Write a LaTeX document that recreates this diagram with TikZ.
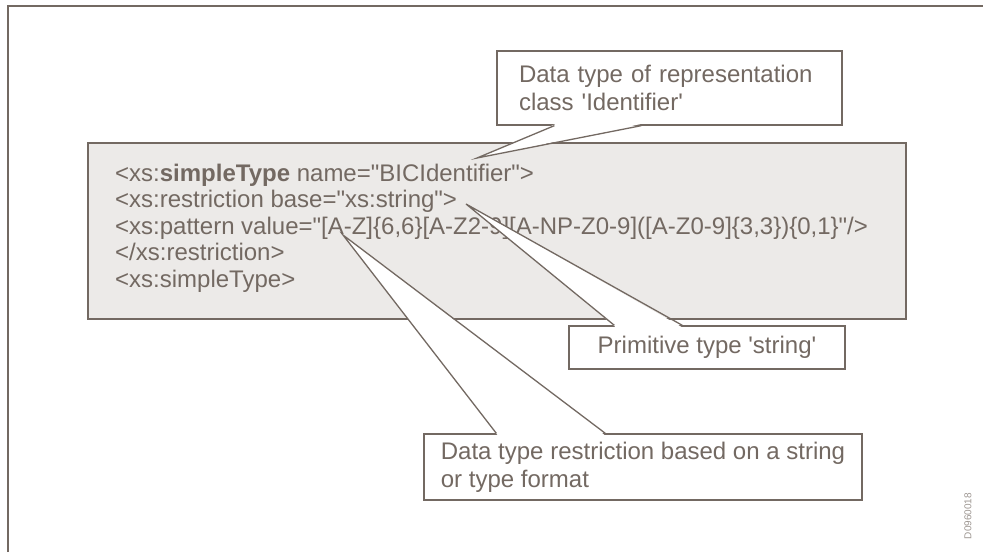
\documentclass[tikz,border=0pt]{standalone}
\usepackage{fontspec}
\setmainfont{Liberation Sans}[Ligatures=TeXOff]
\definecolor{ink}{RGB}{115,105,98}
\definecolor{codebg}{RGB}{236,234,232}
\begin{document}
\begin{tikzpicture}[x=1pt,y=-1pt,
		every node/.style={text=ink},
		txt/.style={font=\fontsize{24}{28}\selectfont},
		note/.style={txt,draw=ink,fill=white,line width=1.3pt,inner ysep=0pt},
		tipline/.style={draw=ink,line width=1.3pt,line join=miter}]
			\useasboundingbox (0,0) rectangle (983,552);
			\draw[ink,line width=2pt] (8,552) -- (8,6) -- (983,6);
			
			\node[draw=ink,fill=codebg,line width=2pt,minimum width=818,minimum height=176] (code) at (497,231) {};
			\node[font=\fontsize{24}{26.5}\selectfont,align=left,anchor=west,inner sep=0pt] (xsd) at (115,228) {<xs:\textbf{simpleType} name="BICIdentifier">\\<xs:restriction base="xs:string">\\<xs:pattern value="[A-Z]\{6,6\}[A-Z2-9][A-NP-Z0-9]([A-Z0-9]\{3,3\})\{0,1\}"/>\\</xs:restriction>\\<xs:simpleType>};
			
			\node[note,minimum width=345,minimum height=74,text width=301,inner xsep=22,align=left] (ident) at (669.5,88) {Data type of representation\\class 'Identifier'};
			\node[note,minimum width=276,minimum height=43] (prim) at (707,347.5) {Primitive type 'string'};
			\node[note,minimum width=438,minimum height=66,align=left] (restr) at (643,467) {Data type restriction based on a string\\or type format};
			
			\coordinate (identTip) at (477,158);
			\coordinate (primTip) at (466,204);
			\coordinate (restrTip) at (343,235);
			
			\fill[white] ([xshift=59,yshift=1.5]ident.south west) -- (identTip) -- ([xshift=144,yshift=1.5]ident.south west) -- cycle;
			\draw[tipline] ([xshift=58]ident.south west) -- (identTip) -- ([xshift=145]ident.south west);
			
			\fill[white] ([xshift=47,yshift=-1.5]prim.north west) -- (primTip) -- ([xshift=113,yshift=-1.5]prim.north west) -- cycle;
			\draw[tipline] ([xshift=46]prim.north west) -- (primTip) -- ([xshift=114]prim.north west);
			
			\fill[white] ([xshift=74,yshift=-1.5]restr.north west) -- (restrTip) -- ([xshift=181,yshift=-1.5]restr.north west) -- cycle;
			\draw[tipline] ([xshift=73]restr.north west) -- (restrTip) -- ([xshift=182]restr.north west);
			
			\node[rotate=90,font=\fontsize{10}{12}\selectfont,text=ink!70] (docid) at (968,516) {D0960018};
		\end{tikzpicture}
\end{document}
